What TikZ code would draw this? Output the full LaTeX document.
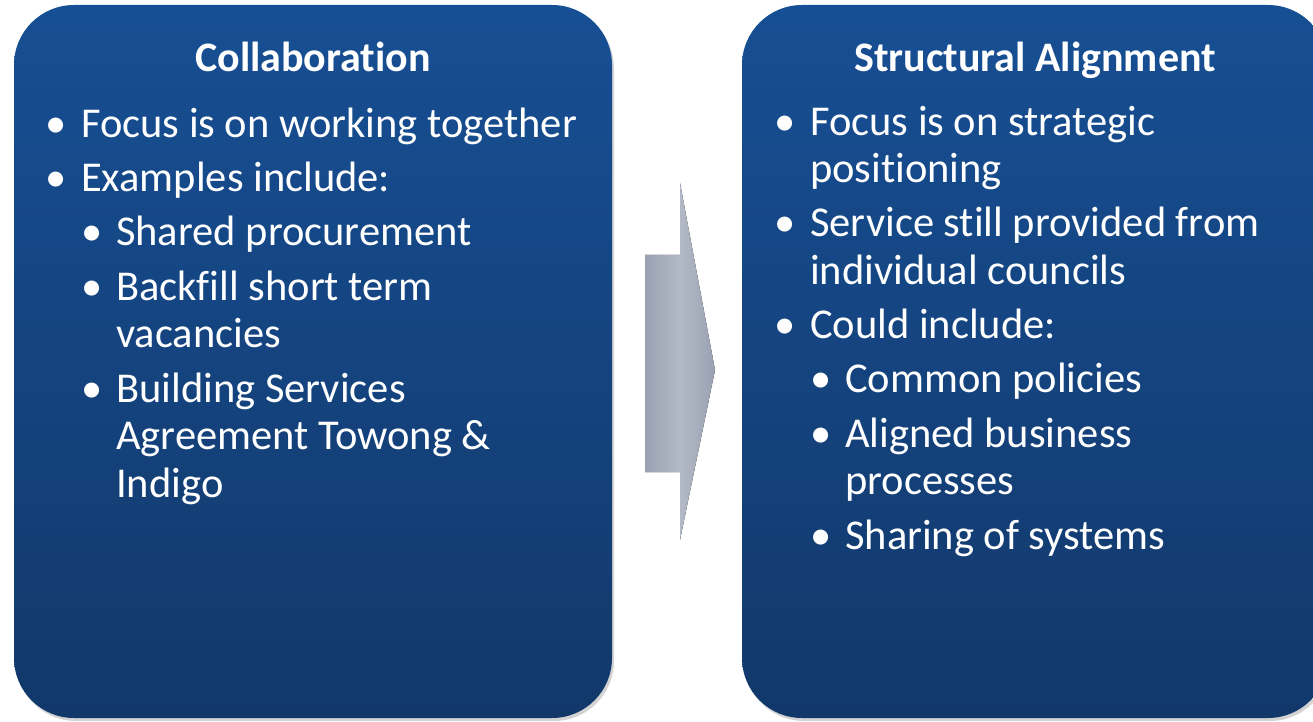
\documentclass[tikz,border=0pt]{standalone}
\usepackage{xcolor}
\usepackage{fontspec}
\setmainfont{Carlito}[Ligatures=NoCommon]
\usepackage{tikz}
\usetikzlibrary{positioning, arrows.meta, shadows}
\definecolor{paneltop}{HTML}{174F94}
\definecolor{panelbottom}{HTML}{12386A}
\definecolor{arrowlight}{HTML}{B3B9C6}
\definecolor{arrowdark}{HTML}{9AA1B1}
\newcommand{\bulA}{\makebox[36pt][l]{\textbullet}}
\newcommand{\bulB}{\hspace*{36pt}\makebox[35pt][l]{\textbullet}}
\newcommand{\contA}{\hspace*{36pt}}
\newcommand{\contB}{\hspace*{71pt}}

\begin{document}
\begin{tikzpicture}[x=1pt, y=1pt,
    panel/.style={top color=paneltop, bottom color=panelbottom, rounded corners=60pt,
      drop shadow={shadow xshift=2pt, shadow yshift=-3pt, opacity=.35}},
    paneltitle/.style={text=white, anchor=base, inner sep=0pt,
      font={\fontsize{42}{50}\selectfont\bfseries}},
    paneltext/.style={text=white, anchor=base west, inner sep=0pt, align=left,
      font={\fontsize{42.5}{47.5}\selectfont}}]
    \useasboundingbox (0,0) rectangle (1313,721);
    \clip (0,0) rectangle (1313,721);
    \path[panel] (14,3) rectangle (612,716);
    \path[panel] (742,3) rectangle (1328,716);
    \fill[left color=arrowdark, right color=arrowdark, middle color=arrowlight]
      (645,249) -- (680,249) -- (680,181) -- (715,351) -- (680,538) -- (680,466)
      -- (645,466) -- cycle;
    \node[paneltitle] (collabtitle) at (313,649) {Collaboration};
    \node[paneltitle] (structtitle) at (1035,649) {Structural Alignment};
    \node[paneltext] (collabtext) at (45,224) {%
      \bulA Focus is on working together\\[6.8pt]
      \bulA Examples include:\\[6.8pt]
      \bulB Shared procurement\\[6.8pt]
      \bulB Backfill short term\\
      \contB vacancies\\[6.8pt]
      \bulB Building Services\\
      \contB Agreement Towong \&\\
      \contB Indigo};
    \node[paneltext] (structtext) at (774,172) {%
      \bulA Focus is on strategic\\
      \contA positioning\\[6.8pt]
      \bulA Service still provided from\\
      \contA individual councils\\[6.8pt]
      \bulA Could include:\\[6.8pt]
      \bulB Common policies\\[6.8pt]
      \bulB Aligned business\\
      \contB processes\\[6.8pt]
      \bulB Sharing of systems};
  \end{tikzpicture}
\end{document}
